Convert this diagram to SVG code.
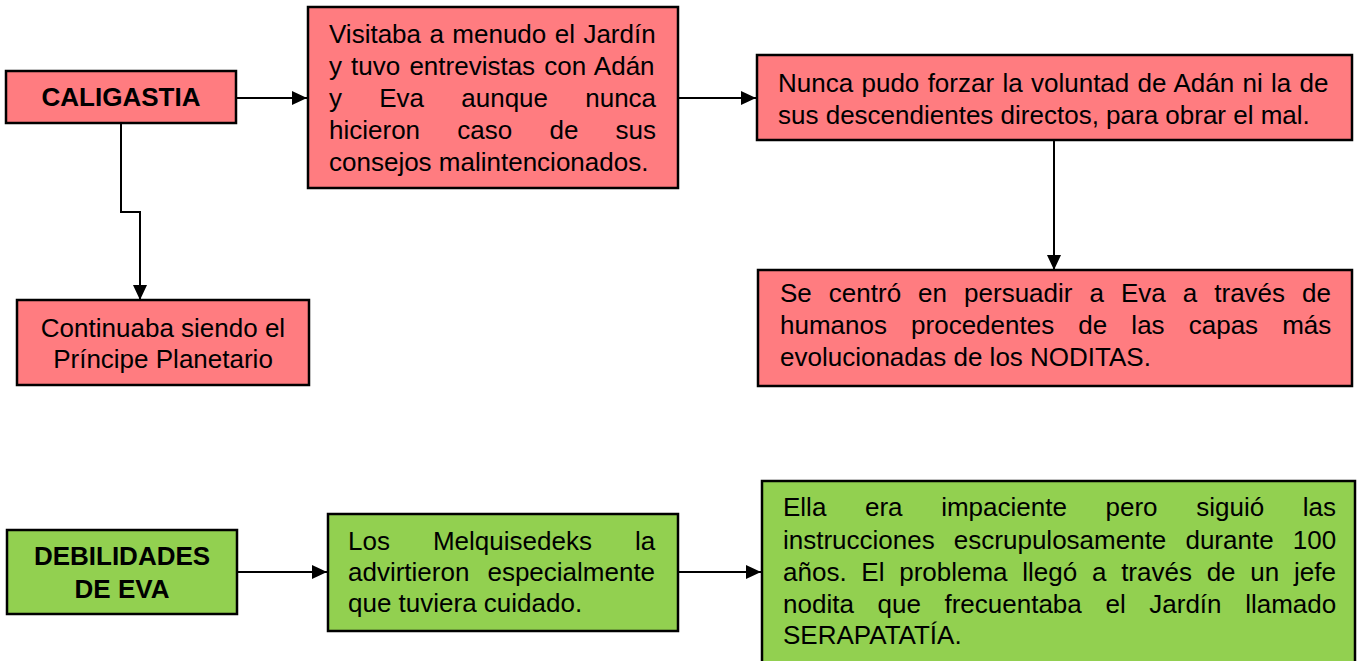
<svg xmlns="http://www.w3.org/2000/svg" width="1363" height="661" viewBox="0 0 1363 661">
<style>
.red{fill:#FF7C80;stroke:#000;stroke-width:2.5}
.grn{fill:#92D050;stroke:#000;stroke-width:2.5}
text{font-family:"Liberation Sans",Arial,sans-serif;font-size:26px;fill:#000}
.b{font-weight:bold;text-anchor:middle}
.c{text-anchor:middle}
.con{fill:none;stroke:#000;stroke-width:2}
</style>
<defs>
<marker id="ah" markerWidth="15" markerHeight="14" refX="15" refY="7" orient="auto" markerUnits="userSpaceOnUse"><path d="M0,0 L15,7 L0,14 Z" fill="#000"/></marker>
</defs>
<rect width="1363" height="661" fill="#fff"/>
<g id="connectors">
<path class="con" d="M236,98 H307" marker-end="url(#ah)"/>
<path class="con" d="M678,98 H756" marker-end="url(#ah)"/>
<path class="con" d="M121,123 V212 H140 V300" marker-end="url(#ah)"/>
<path class="con" d="M1054,140 V270" marker-end="url(#ah)"/>
<path class="con" d="M237,572 H327" marker-end="url(#ah)"/>
<path class="con" d="M678,572 H761" marker-end="url(#ah)"/>
</g>
<g id="caligastia">
<rect class="red" x="6" y="71" width="230" height="52"/>
<text class="b" x="121" y="106">CALIGASTIA</text>
</g>
<g id="visitaba">
<rect class="red" x="308" y="7" width="370" height="181"/>
<text x="329" y="43" word-spacing="1.2">Visitaba a menudo el Jardín</text>
<text x="329" y="75" word-spacing="1.9">y tuvo entrevistas con Adán</text>
<text x="329" y="107" word-spacing="30">y Eva aunque nunca</text>
<text x="329" y="139" word-spacing="30">hicieron caso de sus</text>
<text x="329" y="171">consejos malintencionados.</text>
</g>
<g id="nunca">
<rect class="red" x="757" y="55" width="595" height="85"/>
<text x="778" y="92" word-spacing="1.1">Nunca pudo forzar la voluntad de Adán ni la de</text>
<text x="778" y="124">sus descendientes directos, para obrar el mal.</text>
</g>
<g id="centro">
<rect class="red" x="758" y="270" width="594" height="116"/>
<text x="780" y="302" word-spacing="9.8">Se centró en persuadir a Eva a través de</text>
<text x="780" y="334" word-spacing="16.9">humanos procedentes de las capas más</text>
<text x="780" y="366">evolucionadas de los NODITAS.</text>
</g>
<g id="principe">
<rect class="red" x="17" y="300" width="292" height="85"/>
<text class="c" x="163" y="337">Continuaba siendo el</text>
<text class="c" x="163" y="368">Príncipe Planetario</text>
</g>
<g id="debilidades">
<rect class="grn" x="7" y="530" width="230" height="84"/>
<text class="b" x="122" y="565">DEBILIDADES</text>
<text class="b" x="122" y="598">DE EVA</text>
</g>
<g id="melquisedeks">
<rect class="grn" x="328" y="514" width="350" height="117"/>
<text x="348" y="550" word-spacing="35.8">Los Melquisedeks la</text>
<text x="348" y="581" word-spacing="10.8">advirtieron especialmente</text>
<text x="348" y="612">que tuviera cuidado.</text>
</g>
<g id="ella">
<rect class="grn" x="762" y="481" width="593" height="195"/>
<text x="783" y="516" word-spacing="31.4">Ella era impaciente pero siguió las</text>
<text x="783" y="549" word-spacing="11.9">instrucciones escrupulosamente durante 100</text>
<text x="783" y="581" word-spacing="7.5">años. El problema llegó a través de un jefe</text>
<text x="783" y="613" word-spacing="16.4">nodita que frecuentaba el Jardín llamado</text>
<text x="783" y="644">SERAPATATÍA.</text>
</g>
</svg>
